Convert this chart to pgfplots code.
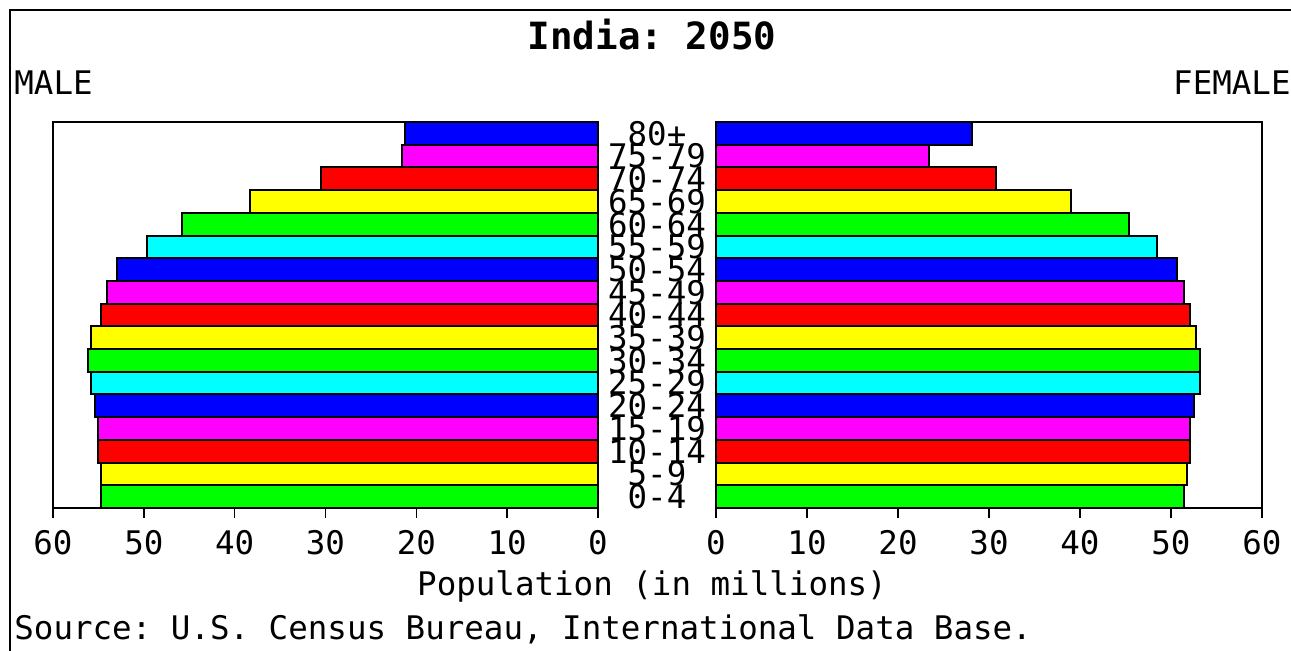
\documentclass[border=0pt]{standalone}
\usepackage{fontspec}
\setmonofont{DejaVu Sans Mono}
\usepackage{pgfplots}
\pgfplotsset{compat=1.18}
\definecolor{cBlue}{RGB}{0,0,255}
\definecolor{cMag}{RGB}{255,0,255}
\definecolor{cRed}{RGB}{255,0,0}
\definecolor{cYel}{RGB}{255,255,0}
\definecolor{cGrn}{RGB}{0,255,0}
\definecolor{cCyan}{RGB}{0,255,255}
\newcommand{\pf}{\ttfamily\fontsize{16.25}{19}\selectfont}
\pgfplotsset{
  pyr/.style={
    scale only axis, height=193pt,
    ymin=-0.5, ymax=16.5,
    xmin=0, xmax=60, xtick={0,10,...,60},
    xtick pos=left,
    xtick style={draw=none},
    axis line style={line width=0.8pt},
    /pgf/number format/assume math mode=true,
    ticklabel style={font=\pf},
    xticklabel style={inner sep=0pt, yshift=-11pt},
    extra description/.code={
      \foreach \t in {0,10,...,60} {\draw[black, line width=0.8pt] (axis cs:\t,-0.5) -- ++(0pt,-5pt);}
    },
    every axis plot/.append style={xbar, bar width=1, bar shift=0pt, draw=black, line width=1pt},
  }
}
\begin{document}
\begin{tikzpicture}
\useasboundingbox (0,0) rectangle (645.5pt,-325.5pt);
\draw[line width=1pt] (5pt,-325.5pt) -- (5pt,-5pt) -- (645.5pt,-5pt);
% Male
\begin{axis}[pyr, at={(26.5pt,-254pt)}, anchor=south west, width=272.5pt,
  x dir=reverse, ytick=\empty]
\addplot[fill=cGrn] coordinates {(54.7,0) (56.1,6) (45.8,12)};
\addplot[fill=cYel] coordinates {(54.7,1) (55.8,7) (38.3,13)};
\addplot[fill=cRed] coordinates {(55.1,2) (54.7,8) (30.5,14)};
\addplot[fill=cMag] coordinates {(55.1,3) (54.0,9) (21.6,15)};
\addplot[fill=cBlue] coordinates {(55.4,4) (52.9,10) (21.3,16)};
\addplot[fill=cCyan] coordinates {(55.8,5) (49.7,11)};
\end{axis}
% Female
\begin{axis}[pyr, at={(358pt,-254pt)}, anchor=south west, width=273pt,
  ytick={0,...,16},
  yticklabels={0-4,5-9,10-14,15-19,20-24,25-29,30-34,35-39,40-44,45-49,50-54,55-59,60-64,65-69,70-74,75-79,80+},
  ytick style={draw=none},
  yticklabel style={anchor=center, xshift=-29.5pt, inner sep=0pt}]
\addplot[fill=cGrn] coordinates {(51.4,0) (53.2,6) (45.4,12)};
\addplot[fill=cYel] coordinates {(51.8,1) (52.8,7) (39.0,13)};
\addplot[fill=cRed] coordinates {(52.1,2) (52.1,8) (30.8,14)};
\addplot[fill=cMag] coordinates {(52.1,3) (51.4,9) (23.4,15)};
\addplot[fill=cBlue] coordinates {(52.5,4) (50.7,10) (28.1,16)};
\addplot[fill=cCyan] coordinates {(53.2,5) (48.5,11)};
\end{axis}
\node[anchor=base, font=\ttfamily\bfseries\fontsize{18.75}{22}\selectfont] at (326pt,-25pt) {India: 2050};
\node[anchor=base west, inner sep=0pt, font=\pf] at (7pt,-47.5pt) {MALE};
\node[anchor=base east, inner sep=0pt, font=\pf] at (645.5pt,-47.5pt) {FEMALE};
\node[anchor=base, inner sep=0pt, font=\pf] at (326pt,-298pt) {Population (in millions)};
\node[anchor=base west, inner sep=0pt, font=\pf] at (7pt,-320pt) {Source: U.S. Census Bureau, International Data Base.};
\end{tikzpicture}
\end{document}
